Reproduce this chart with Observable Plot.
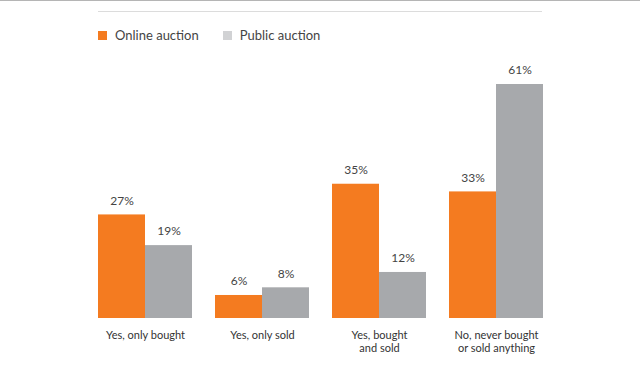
<!DOCTYPE html>
<html>
<head>
<meta charset="utf-8">
<script src="https://cdn.jsdelivr.net/npm/d3@7"></script>
<script src="https://cdn.jsdelivr.net/npm/@observablehq/plot@0.6"></script>
<style>
  html, body { margin: 0; padding: 0; background: #fff; overflow: hidden; }
  body { width: 640px; height: 373px; border-top: 1px solid #b5b5b5; box-sizing: border-box; font-family: Lato, "Open Sans", sans-serif; }
  #head { position: relative; height: 54px; }
  #rule { position: absolute; left: 98px; top: 10px; width: 444px; border-top: 1px solid #dcdcdc; }
  #legend { position: absolute; left: 98px; top: 26px; display: flex; align-items: center; font-size: 13px; color: #444; }
  .sw { width: 9px; height: 9px; display: inline-block; margin-right: 8px; }
  .item { display: flex; align-items: center; margin-right: 24px; }
</style>
</head>
<body>
<div id="head">
  <div id="rule"></div>
  <div id="legend"></div>
</div>
<div id="chart"></div>
<script>
const categories = ["Yes, only bought", "Yes, only sold", "Yes, bought\nand sold", "No, never bought\nor sold anything"];
const seriesNames = ["Online auction", "Public auction"];
const online = [27, 6, 35, 33];
const publicAuction = [19, 8, 12, 61];
const colors = ["#f47b20", "#a7a9ac"];
const legendColors = ["#f47b20", "#d1d2d4"];

const data = [];
categories.forEach((c, i) => {
  data.push({cat: c, series: seriesNames[0], value: online[i]});
  data.push({cat: c, series: seriesNames[1], value: publicAuction[i]});
});

const legend = document.getElementById("legend");
seriesNames.forEach((s, i) => {
  const it = document.createElement("div");
  it.className = "item";
  it.innerHTML = `<span class="sw" style="background:${legendColors[i]}"></span><span>${s}</span>`;
  legend.appendChild(it);
});

const chart = Plot.plot({
  width: 640,
  height: 318,
  marginLeft: 96,
  marginRight: 96,
  marginTop: 29,
  marginBottom: 55,
  style: {fontFamily: "Lato, 'Open Sans', sans-serif", color: "#333"},
  fx: {domain: categories, padding: 0.2, label: null, axis: null},
  x: {domain: seriesNames, padding: 0, axis: null},
  y: {domain: [0, 61], axis: null},
  color: {domain: seriesNames, range: colors},
  marks: [
    Plot.barY(data, {fx: "cat", x: "series", y: "value", fill: "series", inset: 0}),
    Plot.text(data, {fx: "cat", x: "series", y: "value", text: d => d.value + "%", dy: -14, fontSize: 12, fill: "#444"}),
    Plot.axisFx({anchor: "bottom", tickSize: 0, tickPadding: 12, fontSize: 11, label: null, lineHeight: 1.15})
  ]
});
document.getElementById("chart").appendChild(chart);
</script>
</body>
</html>
